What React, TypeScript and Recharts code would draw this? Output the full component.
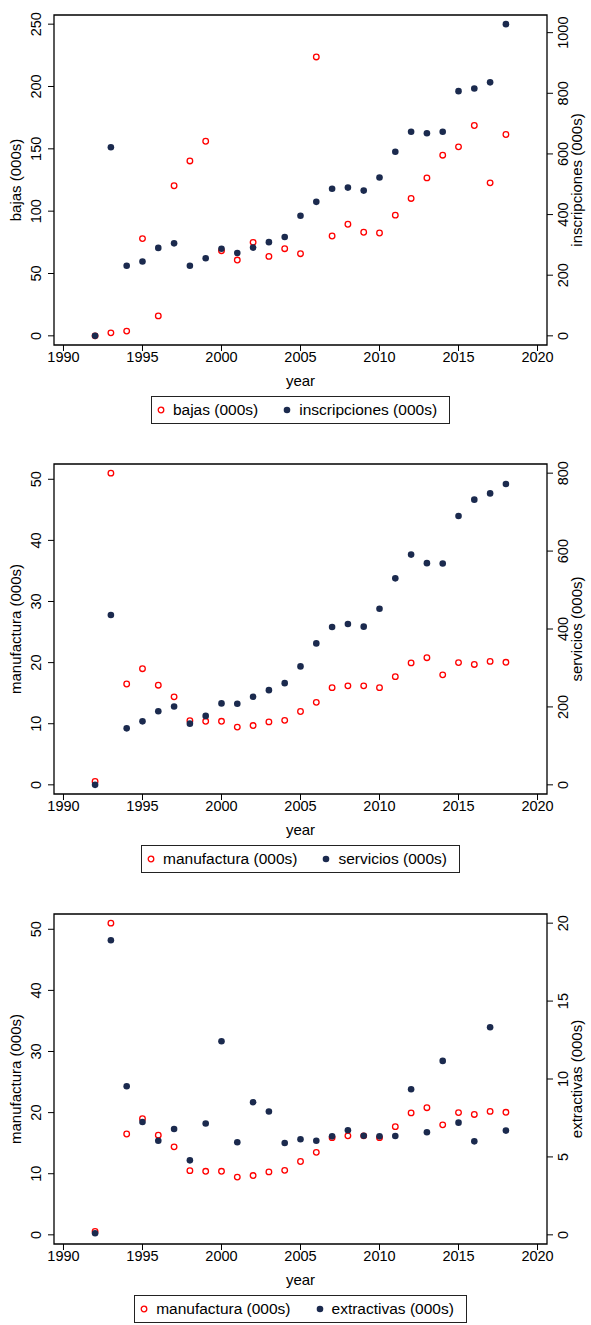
import React from 'react';
import { ScatterChart, Scatter, XAxis, YAxis, ReferenceArea, Label } from 'recharts';

// ---- data -------------------------------------------------------------
const years = [
  1992, 1993, 1994, 1995, 1996, 1997, 1998, 1999, 2000, 2001, 2002, 2003, 2004,
  2005, 2006, 2007, 2008, 2009, 2010, 2011, 2012, 2013, 2014, 2015, 2016, 2017, 2018,
];

const bajas = [
  0, 2.4, 3.8, 78, 16, 120.4, 140.3, 156.1, 68.3, 60.8, 75, 63.7, 69.9,
  65.9, 223.7, 80.1, 89.5, 83.1, 82.5, 96.8, 110.2, 126.7, 144.9, 151.6, 168.7, 122.7, 161.5,
];

const inscripciones = [
  0, 622, 231, 245, 290, 305, 231, 256, 287, 273, 291, 309, 326,
  396, 442, 485, 489, 479, 522, 607, 673, 668, 673, 807, 816, 836, 1028,
];

const manufactura = [
  0.55, 51.0, 16.5, 19.0, 16.3, 14.4, 10.5, 10.4, 10.4, 9.45, 9.7, 10.3, 10.55,
  12.0, 13.5, 15.9, 16.2, 16.2, 15.9, 17.7, 19.95, 20.8, 18.0, 20.0, 19.7, 20.2, 20.05,
];

const servicios = [
  0, 436, 145, 163, 189, 201, 157, 177, 209, 208, 226, 243, 261,
  304, 363, 405, 413, 406, 452, 530, 591, 569, 568, 690, 732, 748, 772,
];

const extractivas = [
  0.1, 18.9, 9.53, 7.24, 6.04, 6.79, 4.78, 7.14, 12.42, 5.94, 8.51, 7.91, 5.89,
  6.13, 6.04, 6.32, 6.71, 6.36, 6.32, 6.34, 9.34, 6.58, 11.16, 7.2, 6.0, 13.32, 6.69,
];

// ---- tick labels --------------------------------------------------------
const yearTicks = [1990, 1995, 2000, 2005, 2010, 2015, 2020];
const bajasTicks = [0, 50, 100, 150, 200, 250];
const inscripcionesTicks = [0, 200, 400, 600, 800, 1000];
const manufacturaTicks = [0, 10, 20, 30, 40, 50];
const serviciosTicks = [0, 200, 400, 600, 800];
const extractivasTicks = [0, 5, 10, 15, 20];

// ---- styling ------------------------------------------------------------
const FONT = '"Liberation Sans", Arial, Helvetica, sans-serif';
const RED = '#ff0000';
const NAVY = '#1b2a4e';
const W = 591;
const H = 450;
const PLOT_TOP = 15;
const PLOT_BOTTOM = 345;
const LEFT_W = 54;
const RIGHT_W = 44;
const TICK_FS = 14.5;
const TITLE_FS = 15;
const LEGEND_FS = 15.5;

// range of an axis = data extent joined with the tick extent, plus a small margin
function axisDomain(values: number[], ticks: number[], pad: number): [number, number] {
  const lo = Math.min(...values, ticks[0]);
  const hi = Math.max(...values, ticks[ticks.length - 1]);
  const d = hi - lo;
  return [lo - pad * d, hi + pad * d];
}

const Y_PAD = 0.0294;
const xDomain = axisDomain(years, yearTicks, 0.02);

const HollowRed = (p: any) => (
  <circle cx={p.cx} cy={p.cy} r={2.8} fill="none" stroke={RED} strokeWidth={1.3} />
);
const NavyDot = (p: any) => <circle cx={p.cx} cy={p.cy} r={3.3} fill={NAVY} />;

const XTick = (p: any) => (
  <text x={p.x} y={362} textAnchor="middle" fontSize={TICK_FS} fill="#000" fontFamily={FONT}>
    {p.payload.value}
  </text>
);

const LeftTick = (p: any) => {
  const X = 41.4;
  return (
    <text
      x={X}
      y={p.y}
      transform={`rotate(-90 ${X} ${p.y})`}
      textAnchor="middle"
      fontSize={TICK_FS}
      fill="#000"
      fontFamily={FONT}
    >
      {p.payload.value}
    </text>
  );
};

const RightTick = (p: any) => {
  const X = 568;
  return (
    <text
      x={X}
      y={p.y}
      transform={`rotate(-90 ${X} ${p.y})`}
      textAnchor="middle"
      fontSize={TICK_FS}
      fill="#000"
      fontFamily={FONT}
    >
      {p.payload.value}
    </text>
  );
};

const VTitle = ({ x, text }: { x: number; text: string }) => {
  const y = (PLOT_TOP + PLOT_BOTTOM) / 2;
  return (
    <text
      x={x}
      y={y}
      transform={`rotate(-90 ${x} ${y})`}
      textAnchor="middle"
      fontSize={TITLE_FS}
      fill="#000"
      fontFamily={FONT}
    >
      {text}
    </text>
  );
};

const LegendBox = ({ leftName, rightName }: { leftName: string; rightName: string }) => (
  <div
    style={{
      position: 'absolute',
      top: 396,
      left: 0,
      width: 601,
      display: 'flex',
      justifyContent: 'center',
    }}
  >
    <div
      style={{
        height: 26,
        border: '1px solid #222',
        background: '#fff',
        display: 'flex',
        alignItems: 'center',
        padding: '0 12px 0 4px',
        fontFamily: FONT,
        fontSize: LEGEND_FS,
        color: '#000',
        whiteSpace: 'nowrap',
      }}
    >
      <svg width={10} height={10} style={{ marginRight: 7 }}>
        <circle cx={5} cy={5} r={2.8} fill="none" stroke={RED} strokeWidth={1.3} />
      </svg>
      <span>{leftName}</span>
      <svg width={10} height={10} style={{ marginLeft: 24, marginRight: 7 }}>
        <circle cx={5} cy={5} r={3.3} fill={NAVY} />
      </svg>
      <span>{rightName}</span>
    </div>
  </div>
);

type PanelProps = {
  leftName: string;
  rightName: string;
  leftValues: number[];
  rightValues: number[];
  leftTicks: number[];
  rightTicks: number[];
};

const Panel = ({ leftName, rightName, leftValues, rightValues, leftTicks, rightTicks }: PanelProps) => {
  const rows = years.map((year, i) => ({ year, l: leftValues[i], r: rightValues[i] }));
  const leftDomain = axisDomain(leftValues, leftTicks, Y_PAD);
  const rightDomain = axisDomain(rightValues, rightTicks, Y_PAD);
  return (
    <div style={{ position: 'relative', width: W, height: H }}>
      <ScatterChart
        width={W}
        height={H}
        margin={{ top: PLOT_TOP, right: 0, bottom: 0, left: 0 }}
        style={{ fontFamily: FONT }}
      >
        <XAxis
          type="number"
          dataKey="year"
          domain={xDomain}
          ticks={yearTicks}
          allowDataOverflow
          interval={0}
          axisLine={false}
          tickLine={{ stroke: '#000', strokeWidth: 1 }}
          tickSize={6}
          tickMargin={0}
          height={H - PLOT_BOTTOM}
          tick={XTick}
        >
          <Label
            content={() => (
              <text x={(LEFT_W + W - RIGHT_W) / 2} y={386} textAnchor="middle" fontSize={TITLE_FS} fill="#000" fontFamily={FONT}>
                year
              </text>
            )}
          />
        </XAxis>
        <YAxis
          yAxisId="left"
          type="number"
          dataKey="l"
          domain={leftDomain}
          ticks={leftTicks}
          allowDataOverflow
          interval={0}
          width={LEFT_W}
          axisLine={false}
          tickLine={{ stroke: '#000', strokeWidth: 1 }}
          tickSize={6}
          tick={LeftTick}
        >
          <Label content={() => <VTitle x={21} text={leftName} />} />
        </YAxis>
        <YAxis
          yAxisId="right"
          orientation="right"
          type="number"
          dataKey="r"
          domain={rightDomain}
          ticks={rightTicks}
          allowDataOverflow
          interval={0}
          width={RIGHT_W}
          axisLine={false}
          tickLine={{ stroke: '#000', strokeWidth: 1 }}
          tickSize={6}
          tick={RightTick}
        >
          <Label content={() => <VTitle x={582} text={rightName} />} />
        </YAxis>
        <ReferenceArea
          yAxisId="left"
          x1={xDomain[0]}
          x2={xDomain[1]}
          y1={leftDomain[0]}
          y2={leftDomain[1]}
          fill="none"
          fillOpacity={0}
          stroke="#000"
          strokeWidth={1.3}
          ifOverflow="visible"
        />
        <Scatter yAxisId="left" data={rows} shape={HollowRed} isAnimationActive={false} />
        <Scatter yAxisId="right" data={rows} shape={NavyDot} isAnimationActive={false} />
      </ScatterChart>
      <LegendBox leftName={leftName} rightName={rightName} />
    </div>
  );
};

export default function App() {
  return (
    <div
      style={{
        position: 'absolute',
        top: 0,
        left: 0,
        width: W,
        height: 1325,
        overflow: 'hidden',
        background: '#fff',
      }}
    >
      <div style={{ position: 'absolute', top: 0, left: 0 }}>
        <Panel
          leftName="bajas (000s)"
          rightName="inscripciones (000s)"
          leftValues={bajas}
          rightValues={inscripciones}
          leftTicks={bajasTicks}
          rightTicks={inscripcionesTicks}
        />
      </div>
      <div style={{ position: 'absolute', top: 449, left: 0 }}>
        <Panel
          leftName="manufactura (000s)"
          rightName="servicios (000s)"
          leftValues={manufactura}
          rightValues={servicios}
          leftTicks={manufacturaTicks}
          rightTicks={serviciosTicks}
        />
      </div>
      <div style={{ position: 'absolute', top: 899, left: 0 }}>
        <Panel
          leftName="manufactura (000s)"
          rightName="extractivas (000s)"
          leftValues={manufactura}
          rightValues={extractivas}
          leftTicks={manufacturaTicks}
          rightTicks={extractivasTicks}
        />
      </div>
    </div>
  );
}
